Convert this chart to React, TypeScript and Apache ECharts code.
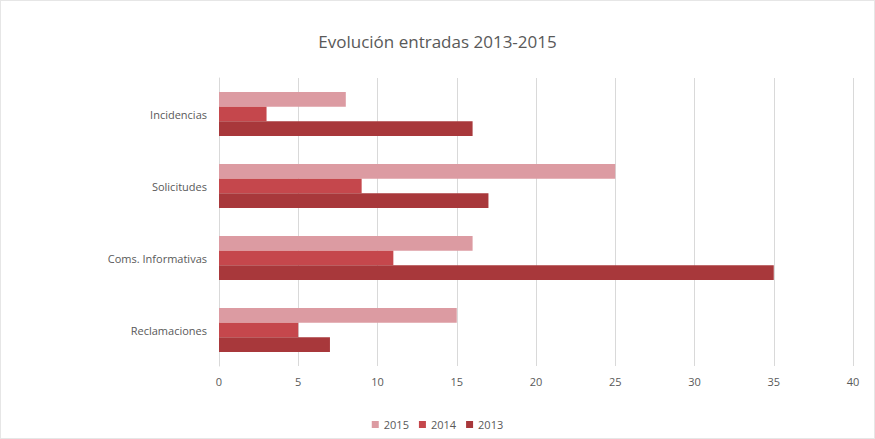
import React, { useEffect, useRef } from "react";
import * as echarts from "echarts";

const categories = ["Reclamaciones", "Coms. Informativas", "Solicitudes", "Incidencias"];
const values2015 = [15, 16, 25, 8];
const values2014 = [5, 11, 9, 3];
const values2013 = [7, 35, 17, 16];
const xTicks = { min: 0, max: 40, interval: 5 };

const FONT = "'Open Sans', 'Liberation Sans', sans-serif";

export default function App() {
  const ref = useRef<HTMLDivElement>(null);
  useEffect(() => {
    if (!ref.current) return;
    const chart = echarts.init(ref.current, undefined, { renderer: "svg" });
    chart.setOption({
      animation: false,
      backgroundColor: "#ffffff",
      title: {
        text: "Evolución entradas 2013-2015",
        left: "center",
        top: 27,
        textStyle: { color: "#595959", fontSize: 17, fontWeight: "normal", fontFamily: FONT },
      },
      legend: {
        bottom: 3,
        left: "center",
        data: ["2015", "2014", "2013"],
        itemWidth: 7,
        itemHeight: 7,
        itemGap: 10,
        icon: "rect",
        textStyle: { color: "#595959", fontSize: 11, fontFamily: FONT },
      },
      grid: { left: 218, right: 21, top: 77, bottom: 72 },
      xAxis: {
        type: "value",
        min: xTicks.min,
        max: xTicks.max,
        interval: xTicks.interval,
        axisLine: { show: false },
        axisTick: { show: false },
        axisLabel: { color: "#595959", fontSize: 11, fontFamily: FONT, margin: 10 },
        splitLine: { lineStyle: { color: "#d9d9d9" } },
      },
      yAxis: {
        type: "category",
        data: categories,
        axisLine: { show: true, lineStyle: { color: "#d9d9d9" } },
        axisTick: { show: false },
        axisLabel: { color: "#595959", fontSize: 11, fontFamily: FONT, margin: 12 },
      },
      series: [
        {
          name: "2015",
          type: "bar",
          data: values2015,
          itemStyle: { color: "#dc9ba2" },
          barGap: "0%",
          barCategoryGap: "39%",
        },
        {
          name: "2014",
          type: "bar",
          data: values2014,
          itemStyle: { color: "#c5474c" },
          barGap: "0%",
          barCategoryGap: "39%",
        },
        {
          name: "2013",
          type: "bar",
          data: values2013,
          itemStyle: { color: "#a8383b" },
          barGap: "0%",
          barCategoryGap: "39%",
        },
      ],
    });
    return () => chart.dispose();
  }, []);
  return (
    <div
      ref={ref}
      style={{
        position: "fixed",
        left: 0,
        top: 0,
        width: 875,
        height: 439,
        boxSizing: "border-box",
        border: "1px solid #e6e6e6",
      }}
    />
  );
}
